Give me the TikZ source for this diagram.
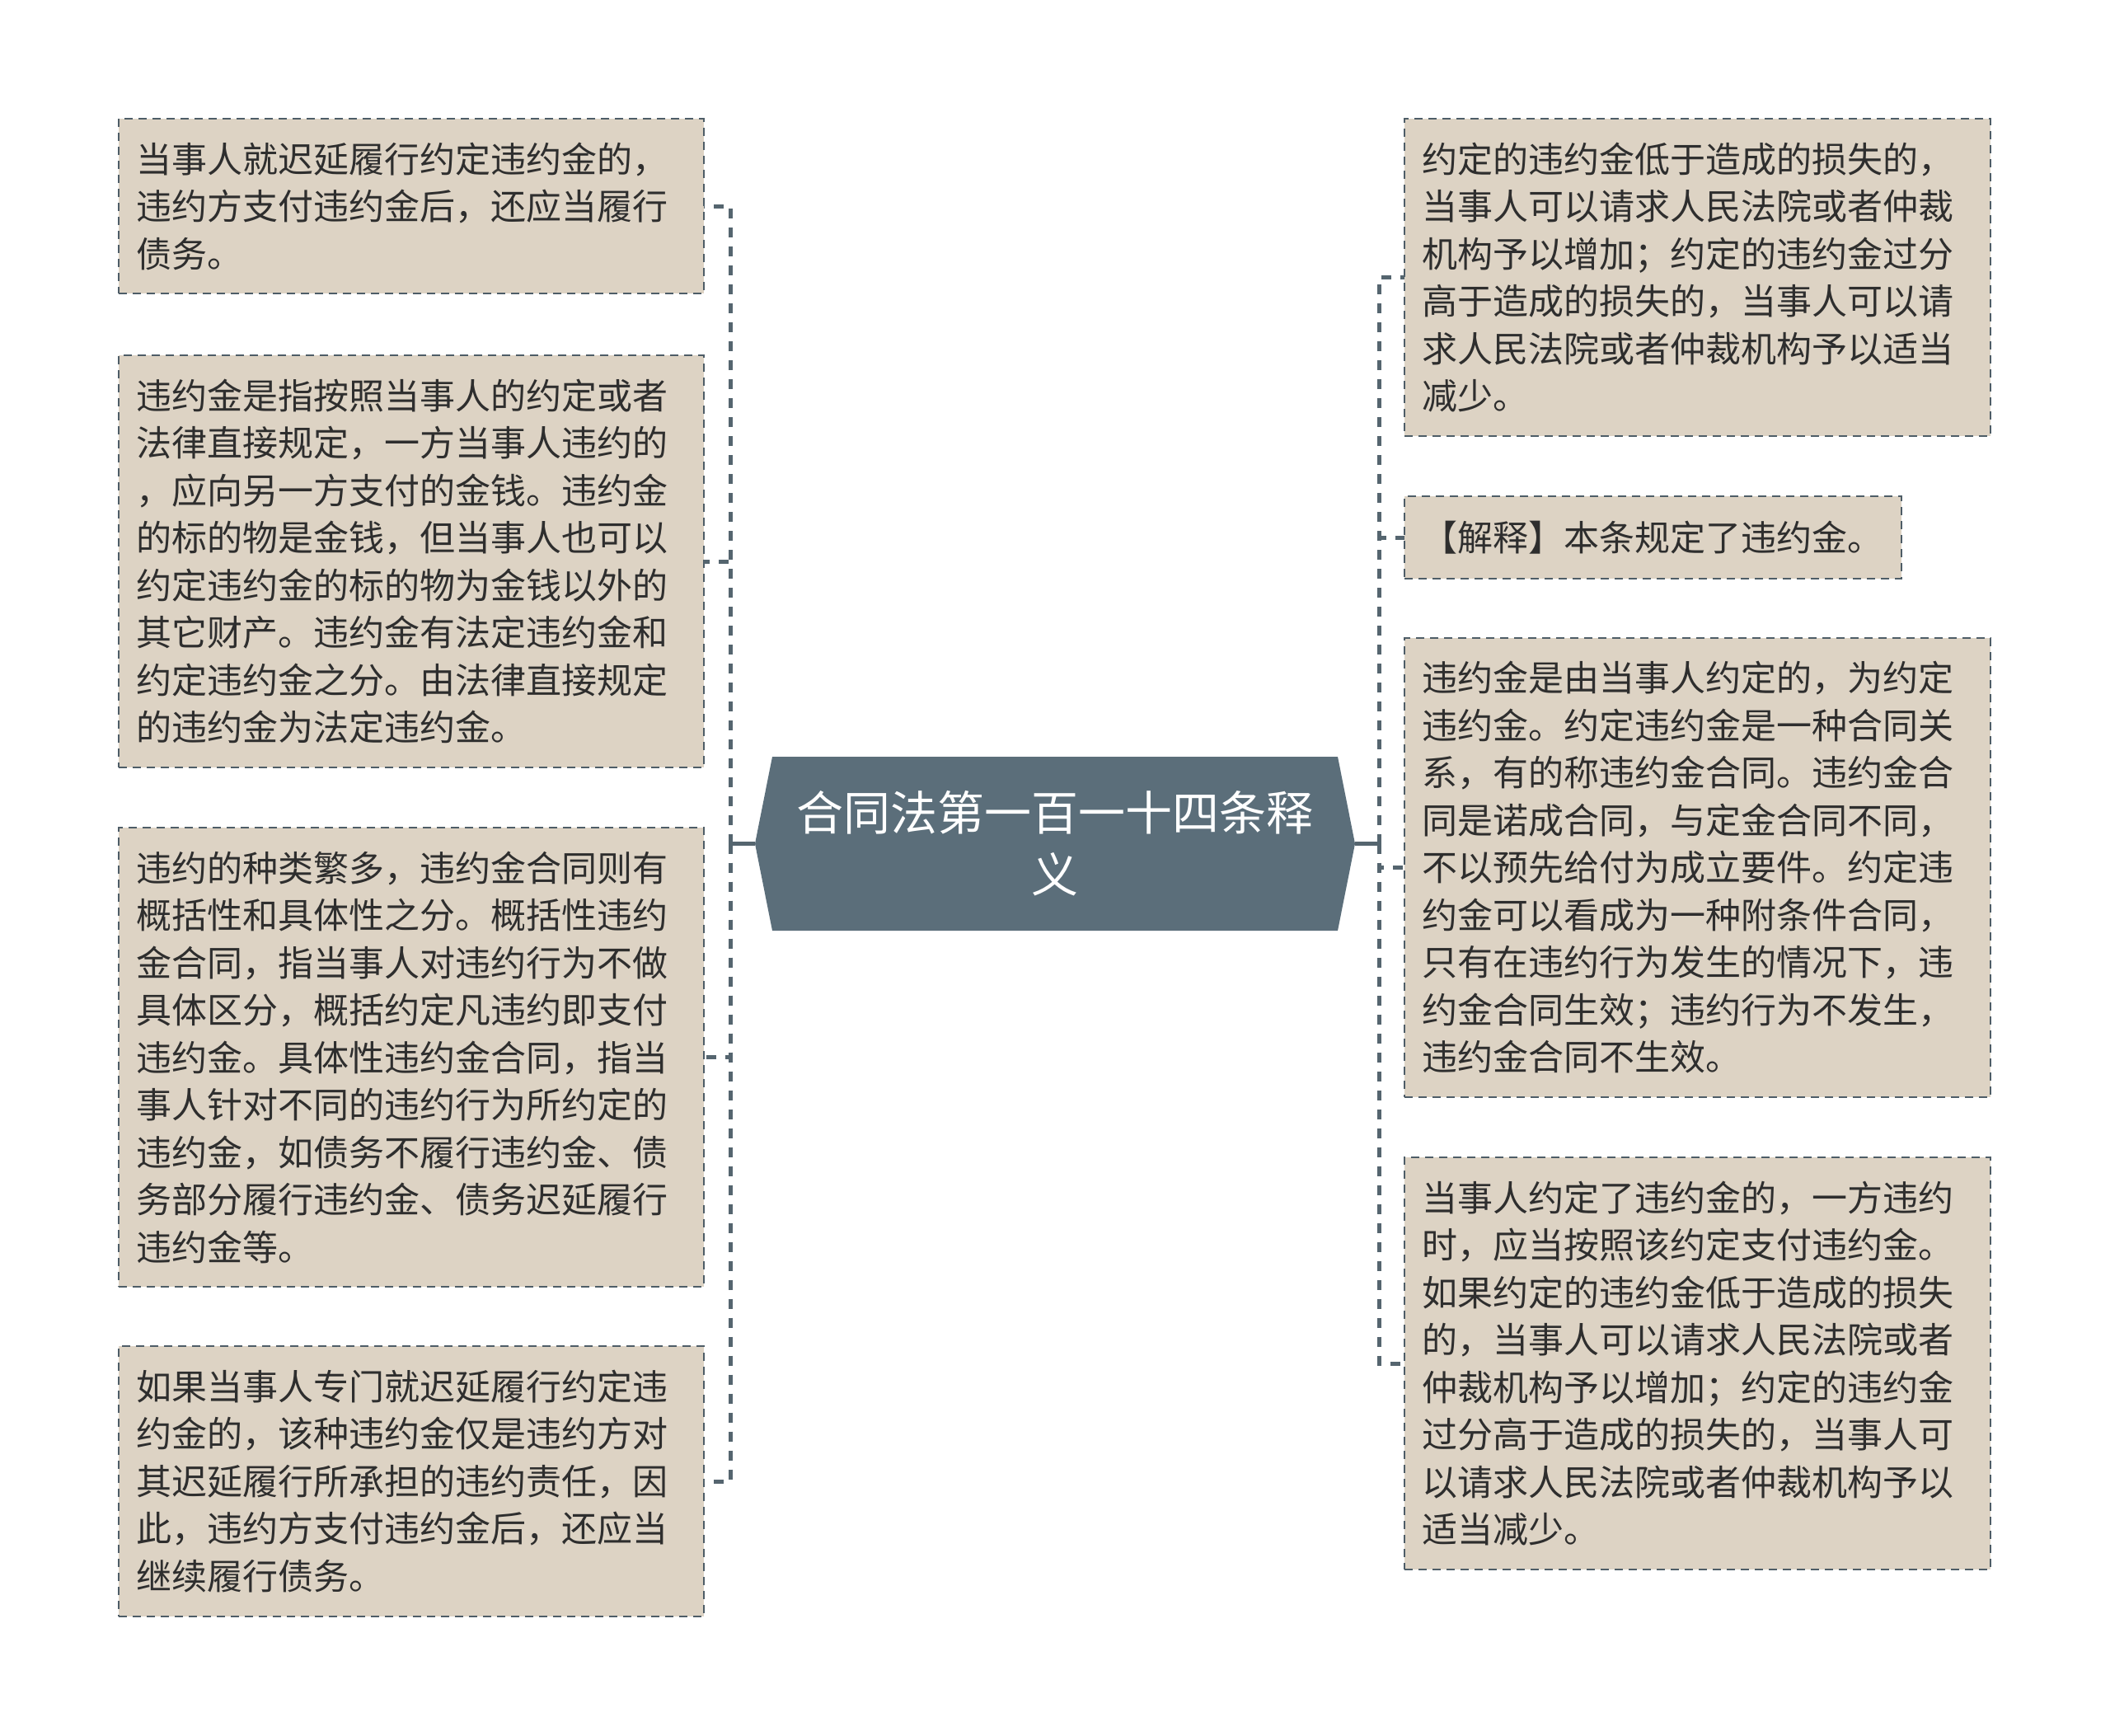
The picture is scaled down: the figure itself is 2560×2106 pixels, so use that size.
\documentclass[tikz,border=0pt]{standalone}
\usepackage{fontspec}
\usetikzlibrary{calc}
\newfontfamily\cjk{Noto Sans CJK SC}
\definecolor{boxfill}{HTML}{DDD3C4}
\definecolor{boxline}{HTML}{4E5D67}
\definecolor{hexfill}{HTML}{5B6E7A}
\definecolor{linkc}{HTML}{55656F}
\definecolor{txt}{HTML}{2E2E2E}
\begin{document}
\begin{tikzpicture}[x=1pt,y=-1pt,
  leaf/.style={draw=boxline, dash pattern=on 10pt off 7pt, line width=2.7pt,
    fill=boxfill, text=txt, font=\cjk\fontsize{43}{57.5}\selectfont,
    align=left, inner xsep=21pt, inner ysep=0pt, outer sep=0pt, anchor=north west},
  spine/.style={draw=linkc, line width=5pt, dash pattern=on 12pt off 11pt},
  stub/.style={draw=linkc, line width=5pt},
  title/.style={text=white, font=\cjk\fontsize{57}{75}\selectfont, align=center,
    minimum width=728pt, minimum height=211pt, inner sep=0pt, outer sep=0pt}]
\fill[white] (0,0) rectangle (2560,2106);
\useasboundingbox (0,0) rectangle (2560,2106);

% central node
\node[title] (C) at (1280,1023.5) {};
\fill[hexfill] (C.west) -- ($(C.north west)+(21,0)$) -- ($(C.north east)+(-21,0)$)
  -- (C.east) -- ($(C.south east)+(-21,0)$) -- ($(C.south west)+(21,0)$) -- cycle;
\node[title] (CT) at (C.center) {合同法第一百一十四条释\\义};

% left leaves
\node[leaf, text width=668pt, minimum height=212pt] (L1) at (144,144)
  {当事人就迟延履行约定违约金的，\\违约方支付违约金后，还应当履行\\债务。};
\node[leaf, text width=668pt, minimum height=500pt] (L2) at (144,431)
  {违约金是指按照当事人的约定或者\\法律直接规定，一方当事人违约的\\，应向另一方支付的金钱。违约金\\的标的物是金钱，但当事人也可以\\约定违约金的标的物为金钱以外的\\其它财产。违约金有法定违约金和\\约定违约金之分。由法律直接规定\\的违约金为法定违约金。};
\node[leaf, text width=668pt, minimum height=557pt] (L3) at (144,1004)
  {违约的种类繁多，违约金合同则有\\概括性和具体性之分。概括性违约\\金合同，指当事人对违约行为不做\\具体区分，概括约定凡违约即支付\\违约金。具体性违约金合同，指当\\事人针对不同的违约行为所约定的\\违约金，如债务不履行违约金、债\\务部分履行违约金、债务迟延履行\\违约金等。};
\node[leaf, text width=668pt, minimum height=328pt] (L4) at (144,1633)
  {如果当事人专门就迟延履行约定违\\约金的，该种违约金仅是违约方对\\其迟延履行所承担的违约责任，因\\此，违约方支付违约金后，还应当\\继续履行债务。};

% right leaves
\node[leaf, text width=669pt, minimum height=385pt] (R1) at (1704,144)
  {约定的违约金低于造成的损失的，\\当事人可以请求人民法院或者仲裁\\机构予以增加；约定的违约金过分\\高于造成的损失的，当事人可以请\\求人民法院或者仲裁机构予以适当\\减少。};
\node[leaf, text width=561pt, minimum height=100pt] (R2) at (1704,602)
  {【解释】本条规定了违约金。};
\node[leaf, text width=669pt, minimum height=557pt] (R3) at (1704,774)
  {违约金是由当事人约定的，为约定\\违约金。约定违约金是一种合同关\\系，有的称违约金合同。违约金合\\同是诺成合同，与定金合同不同，\\不以预先给付为成立要件。约定违\\约金可以看成为一种附条件合同，\\只有在违约行为发生的情况下，违\\约金合同生效；违约行为不发生，\\违约金合同不生效。};
\node[leaf, text width=669pt, minimum height=500pt] (R4) at (1704,1404)
  {当事人约定了违约金的，一方违约\\时，应当按照该约定支付违约金。\\如果约定的违约金低于造成的损失\\的，当事人可以请求人民法院或者\\仲裁机构予以增加；约定的违约金\\过分高于造成的损失的，当事人可\\以请求人民法院或者仲裁机构予以\\适当减少。};

% connectors
\coordinate (JL) at ($(C.west)+(-30,0)$);
\coordinate (JR) at ($(C.east)+(29,0)$);
\draw[stub] (C.west) -- (JL);
\draw[stub] (C.east) -- (JR);
\foreach \n in {L1,L2,L3,L4} \draw[spine] (JL) |- (\n.east);
\foreach \n in {R1,R2,R3,R4} \draw[spine] (JR) |- (\n.west);
\end{tikzpicture}
\end{document}
